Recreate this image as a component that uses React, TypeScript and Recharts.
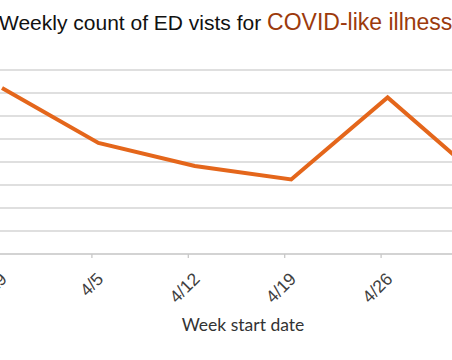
import React from "react";
import { LineChart, Line, XAxis, YAxis, CartesianGrid } from "recharts";

const weeks = ["3/29", "4/5", "4/12", "4/19", "4/26", "5/3"];
const visits = [722, 483, 383, 324, 681, 317];
const yTicks = [0, 100, 200, 300, 400, 500, 600, 700, 800];

const data = weeks.map((week, i) => ({ week, visits: visits[i] }));

const FONT = "'Liberation Sans', Arial, sans-serif";
const CHART_H = 360;
const AXIS_H = 106;
const AXIS_Y = CHART_H - AXIS_H;

// Excel-style: tick marks sit a little left of each point, labels slanted 45°
const WeekTick = (props: any) => {
  const { x, payload } = props;
  const ax = x + 6;
  const ay = AXIS_Y + 26;
  return (
    <g>
      <line
        x1={x - 6.5}
        y1={AXIS_Y}
        x2={x - 6.5}
        y2={AXIS_Y + 4}
        stroke="#c8c8c8"
        strokeWidth={1.3}
      />
      <text
        x={ax}
        y={ay}
        transform={`rotate(-45, ${ax}, ${ay})`}
        textAnchor="end"
        fontSize={17.5}
        fontFamily={FONT}
        fill="#404040"
      >
        {payload.value}
      </text>
    </g>
  );
};

export default function App() {
  return (
    <div
      style={{
        position: "absolute",
        left: 0,
        top: 0,
        width: 452,
        height: 360,
        overflow: "hidden",
        background: "#fff",
      }}
    >
      <div style={{ position: "absolute", left: -18, top: 0 }}>
        <LineChart
          width={522}
          height={CHART_H}
          data={data}
          margin={{ top: 70, right: 0, left: 0, bottom: 0 }}
        >
          <CartesianGrid vertical={false} stroke="#d4d4d4" strokeWidth={1.3} />
          <XAxis
            dataKey="week"
            padding={{ left: 20, right: 20 }}
            height={AXIS_H}
            axisLine={{ stroke: "#cfcfcf", strokeWidth: 1.5 }}
            tickLine={false}
            tickSize={0}
            tickMargin={0}
            interval={0}
            tick={<WeekTick />}
          />
          <YAxis hide domain={[0, 800]} ticks={yTicks} />
          <Line
            type="linear"
            dataKey="visits"
            stroke="#e4661b"
            strokeWidth={4}
            dot={false}
            isAnimationActive={false}
          />
        </LineChart>
      </div>
      <svg
        width={452}
        height={360}
        style={{ position: "absolute", left: 0, top: 0, pointerEvents: "none" }}
      >
        <text x={-1} y={30} fontSize={21} fontFamily={FONT} fill="#111">
          Weekly count of ED vists for{" "}
          <tspan fill="#9c3a0c" fontSize={23}>
            COVID-like illness
          </tspan>
        </text>
        <text
          x={243}
          y={331}
          textAnchor="middle"
          fontSize={17.5}
          fontFamily="Lato, sans-serif"
          fill="#333"
        >
          Week start date
        </text>
      </svg>
    </div>
  );
}
